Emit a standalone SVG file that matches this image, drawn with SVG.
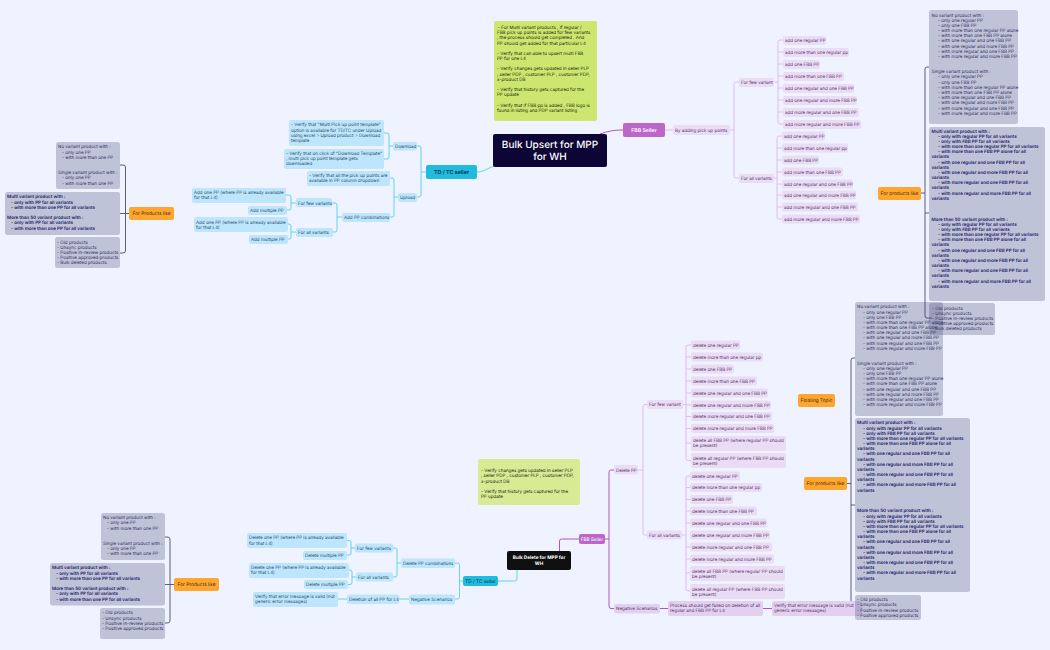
<svg xmlns="http://www.w3.org/2000/svg" width="1050" height="650" viewBox="0 0 1050 650">
<style>
text{font-family:"Inter","Noto Sans","Liberation Sans",sans-serif;font-size:4.5px;text-rendering:geometricPrecision}
.c{fill:none;stroke-width:.9}
.cy{stroke:#4fd0f0}.pk{stroke:#e2b4ee}.pu{stroke:#b454c4;stroke-width:1}.dk{stroke:#4e4c72;stroke-width:.9}.bk{stroke:#1c1a40}
.b{fill:#bde6fc}.bt{fill:#2c4f6c}
.p{fill:#ebdcf6}.pt{fill:#553a68}
.gr{fill:#323264;fill-opacity:.25}.gt{fill:#33335f}.gb{fill:#1b1a66;font-weight:600}
.o{fill:#ffa62f}.ot{fill:#3a2a10;text-anchor:middle;font-size:4.800px}
.n{fill:#1f2a10}
.m{text-anchor:middle}
</style>
<rect width="1050" height="650" fill="#eef3ff"/>
<g id="connectors">
<path class="c cy" d="M477 172C484 172 487 168 495 166"/>
<path class="c pu" d="M600 134C608 131 614 130 623 130"/>
<path class="c cy" d="M426 172H421M417 146H419Q421 146 421 148V195Q421 197 419 197H417"/>
<path class="c cy" d="M393 146H389M384 133H387Q389 133 389 135V157Q389 159 387 159H384"/>
<path class="c cy" d="M398 197H394M390 178H392Q394 178 394 180V215Q394 217 392 217H390"/>
<path class="c cy" d="M342 217H337M332 203H335Q337 203 337 205V230Q337 232 335 232H333"/>
<path class="c cy" d="M296 203H291M286 195H289Q291 195 291 197V208Q291 210 289 210H287"/>
<path class="c cy" d="M296 232H291M288 224H289Q291 224 291 226V237Q291 239 289 239H288"/>
<path class="c pk" d="M665 130H673M730 130H734M739 82H736Q734 82 734 84V176Q734 178 736 178H739"/>
<path class="c pk" d="M774 82H778M783 40H780Q778 40 778 42V122Q778 124 780 124H783M778 52H783M778 64H783M778 76H783M778 88H783M778 100H783M778 112H783"/>
<path class="c pk" d="M774 178H777M782 136H779Q777 136 777 138V217Q777 219 779 219H782M777 148H782M777 160H782M777 172H782M777 184H782M777 195H782M777 207H782"/>
<path class="c dk" d="M921 193H925M929 67H927Q925 67 925 69V316Q925 318 927 318H932M925 213H929"/>
<path class="c dk" d="M847 483.500H851M855 358H853Q851 358 851 360V605Q851 607 853 607H855M851 505H855"/>
<path class="c dk" d="M129 213.500H120M120 165H123Q125.500 165 125.500 167V251Q125.500 253 123 253H120"/>
<path class="c dk" d="M174 584.500H165M165 537H167Q170 537 170 539V621Q170 623 167 623H165"/>
<path class="c cy" d="M517 570V579Q517 581 515 581H498"/>
<path class="c cy" d="M463 581H459.500M455 563H457.500Q459.500 563 459.500 565V597Q459.500 599 457.500 599H455"/>
<path class="c cy" d="M401 563H397M393 548H395Q397 548 397 550V575Q397 577 395 577H393"/>
<path class="c cy" d="M355 548H351M347 540.500H349Q351 540.500 351 542.500V553Q351 555 349 555H347"/>
<path class="c cy" d="M356 577H352M349 570H350Q352 570 352 572V582.500Q352 584.500 350 584.500H348"/>
<path class="c cy" d="M409 599H399M347 599H338"/>
<path class="c pu" d="M559.500 551V541Q559.500 539 561.500 539H579"/>
<path class="c pu" d="M605 539H609M614 470H611Q609 470 609 472V606Q609 608.500 611 608.500H614"/>
<path class="c pu" d="M660 608.500H668M763 608.500H772"/>
<path class="c pk" d="M638 470H643M647 404.500H645Q643 404.500 643 406.500V533Q643 535 645 535H647"/>
<path class="c pk" d="M683 404.500H686M691 345H688Q686 345 686 347V458.500Q686 460.500 688 460.500H691M686 357H691M686 369H691M686 381H691M686 393H691M686 405H691M686 416.500H691M686 428.500H691M686 443H691"/>
<path class="c pk" d="M682 535H686M690 476H688Q686 476 686 478V589Q686 591 688 591H690M686 487.500H690M686 499.500H690M686 511H690M686 523H690M686 547H690M686 559H690M686 573H690"/>
</g>

<g id="root-upsert"><rect x="493" y="134" width="114" height="33" rx="2" fill="#0d0535"/><text x="550" y="148" class="m" fill="#fff" style="font-size:10px;font-weight:500">Bulk Upsert for MPP</text><text x="550" y="160" class="m" fill="#fff" style="font-size:10px;font-weight:500">for WH</text></g>
<g id="note-upsert"><rect x="494" y="21" width="103" height="100" rx="2" fill="#cce76f"/><text class="n" y="29"><tspan x="498" y="29">- For Multi variant products ,  if regular /</tspan><tspan x="497" y="34">FBB pick up points is added for few variants</tspan><tspan x="497" y="39.300">, the process should get completed . And</tspan><tspan x="497" y="44.600">PP should get added for that particular L4</tspan><tspan x="497" y="54.800">-  Verify that can able to upsert multi FBB</tspan><tspan x="497" y="59.800">PP for one L4</tspan><tspan x="497" y="70.300">-  Verify changes gets updated in seller PLP</tspan><tspan x="497" y="75.600">, seller PDP , customer PLP , customer PDP,</tspan><tspan x="497" y="80.800">x-product DB</tspan><tspan x="497" y="91">- Verify that history gets captured for the</tspan><tspan x="497" y="96.200">PP update</tspan><tspan x="497" y="106.600">- Verify that if FBB pp is added , FBB logo is</tspan><tspan x="497" y="111.800">found in listing and PDP variant listing</tspan></text></g>
<g id="fbb-seller"><rect x="623" y="123" width="42" height="14" rx="2" fill="#bb66c8"/><text x="644" y="131.800" class="m" fill="#fff" style="font-size:5.200px;font-weight:600">FBB Seller</text></g>
<g id="pickup"><rect class="p" x="673" y="125" width="57" height="10" rx="2"/><text class="pt" x="675" y="131.600">By adding pick up points</text></g>
<g id="fbb-few"><rect class="p" x="739" y="78" width="35" height="9" rx="2"/><text class="pt" x="741" y="84">For few variant</text></g>
<g id="fbb-all"><rect class="p" x="739" y="174" width="35" height="9" rx="2"/><text class="pt" x="741" y="180">For all variants</text></g>
<g id="uf1"><rect class="p" x="783" y="36" width="43" height="9" rx="2"/><text class="pt" x="785" y="41.600">add one regular PP</text></g>
<g id="uf2"><rect class="p" x="783" y="48" width="66" height="9" rx="2"/><text class="pt" x="785" y="53.600">add more than one regular pp</text></g>
<g id="uf3"><rect class="p" x="783" y="60" width="37" height="9" rx="2"/><text class="pt" x="785" y="65.600">add one FBB PP</text></g>
<g id="uf4"><rect class="p" x="783" y="72" width="61" height="9" rx="2"/><text class="pt" x="785" y="77.600">add more than one FBB PP</text></g>
<g id="uf5"><rect class="p" x="783" y="84" width="71" height="9" rx="2"/><text class="pt" x="785" y="89.600">add one regular and one FBB PP</text></g>
<g id="uf6"><rect class="p" x="783" y="96" width="74" height="9" rx="2"/><text class="pt" x="785" y="101.600">add one regular and more FBB PP</text></g>
<g id="uf7"><rect class="p" x="783" y="108" width="76" height="9" rx="2"/><text class="pt" x="785" y="113.600">add more regular and one FBB PP</text></g>
<g id="uf8"><rect class="p" x="783" y="120" width="78" height="9" rx="2"/><text class="pt" x="785" y="125.600">add more regular and more FBB PP</text></g>
<g id="ua1"><rect class="p" x="782" y="131.500" width="43" height="9" rx="2"/><text class="pt" x="784" y="137.600">add one regular PP</text></g>
<g id="ua2"><rect class="p" x="782" y="143.500" width="66" height="9" rx="2"/><text class="pt" x="784" y="149.600">add more than one regular pp</text></g>
<g id="ua3"><rect class="p" x="782" y="155.500" width="37" height="9" rx="2"/><text class="pt" x="784" y="161.600">add one FBB PP</text></g>
<g id="ua4"><rect class="p" x="782" y="167.500" width="61" height="9" rx="2"/><text class="pt" x="784" y="173.600">add more than one FBB PP</text></g>
<g id="ua5"><rect class="p" x="782" y="179.500" width="71" height="9" rx="2"/><text class="pt" x="784" y="185.600">add one regular and one FBB PP</text></g>
<g id="ua6"><rect class="p" x="782" y="190.500" width="74" height="9" rx="2"/><text class="pt" x="784" y="196.600">add one regular and more FBB PP</text></g>
<g id="ua7"><rect class="p" x="782" y="202.500" width="76" height="9" rx="2"/><text class="pt" x="784" y="208.600">add more regular and one FBB PP</text></g>
<g id="ua8"><rect class="p" x="782" y="214.500" width="78" height="9" rx="2"/><text class="pt" x="784" y="220.600">add more regular and more FBB PP</text></g>

<g id="products-upper-right"><rect class="o" x="878" y="187" width="43" height="13" rx="2"/><text class="ot" x="899.500" y="195.300">For products like</text></g>
<g id="ur-simple"><rect class="gr" x="929" y="10" width="89" height="114" rx="2.500"/><text class="gt"><tspan x="931.500" y="16.600">No variant product with :</tspan><tspan x="938" y="21.800">- only one regular PP</tspan><tspan x="938" y="26.900">- only one FBB PP</tspan><tspan x="938" y="32">- with more than one regular PP alone</tspan><tspan x="938" y="37.200">- with more than one FBB PP alone</tspan><tspan x="938" y="42.400">- with one regular and one FBB PP</tspan><tspan x="938" y="47.500">- with one regular and more FBB PP</tspan><tspan x="938" y="52.700">- with more regular and one FBB PP</tspan><tspan x="938" y="57.800">- with more regular and more FBB PP</tspan><tspan x="931.500" y="73.300">Single variant product with :</tspan><tspan x="938" y="78.400">- only one regular PP</tspan><tspan x="938" y="83.600">- only one FBB PP</tspan><tspan x="938" y="88.800">- with more than one regular PP alone</tspan><tspan x="938" y="94">- with more than one FBB PP alone</tspan><tspan x="938" y="99.100">- with one regular and one FBB PP</tspan><tspan x="938" y="104.300">- with one regular and more FBB PP</tspan><tspan x="938" y="109.500">- with more regular and one FBB PP</tspan><tspan x="938" y="114.600">- with more regular and more FBB PP</tspan></text></g>
<g id="ur-multi"><rect class="gr" x="929" y="127" width="116" height="174" rx="2.500"/><text class="gb"><tspan x="931.500" y="132.600">Multi variant product with :</tspan><tspan x="938" y="137.800">- only with regular PP for all variants</tspan><tspan x="938" y="142.900">- only with FBB PP for all variants</tspan><tspan x="938" y="148.100">- with more than one regular PP for all variants</tspan><tspan x="938" y="153.200">- with more than one FBB PP alone for all</tspan><tspan x="931.500" y="158.400">variants</tspan><tspan x="938" y="163.600">- with one regular and one FBB PP for all</tspan><tspan x="931.500" y="168.700">variants</tspan><tspan x="938" y="173.900">- with one regular and more FBB PP for all</tspan><tspan x="931.500" y="179">variants</tspan><tspan x="938" y="184.200">- with more regular and one FBB PP for all</tspan><tspan x="931.500" y="189.400">variants</tspan><tspan x="938" y="194.500">- with more regular and more FBB PP for all</tspan><tspan x="931.500" y="199.700">variants</tspan><tspan x="931.500" y="220.600">More than 50 variant product with :</tspan><tspan x="938" y="225.700">- only with regular PP for all variants</tspan><tspan x="938" y="230.900">- only with FBB PP for all variants</tspan><tspan x="938" y="236">- with more than one regular PP for all variants</tspan><tspan x="938" y="241.200">- with more than one FBB PP alone for all</tspan><tspan x="931.500" y="246.400">variants</tspan><tspan x="938" y="251.500">- with one regular and one FBB PP for all</tspan><tspan x="931.500" y="256.700">variants</tspan><tspan x="938" y="261.900">- with one regular and more FBB PP for all</tspan><tspan x="931.500" y="267">variants</tspan><tspan x="938" y="272.200">- with more regular and one FBB PP for all</tspan><tspan x="931.500" y="277.300">variants</tspan><tspan x="938" y="282.500">- with more regular and more FBB PP for all</tspan><tspan x="931.500" y="287.700">variants</tspan></text></g>
<g id="ur-old"><rect class="gr" x="929" y="303" width="66" height="32" rx="2.500"/><text class="gt"><tspan x="932" y="309.500">- Old products</tspan><tspan x="932" y="314.800">- Unsync products</tspan><tspan x="932" y="319.900">- Positive In-review products</tspan><tspan x="932" y="325.200">- Positive approved products</tspan><tspan x="932" y="330.400">- Bulk deleted products</tspan></text></g>

<g id="td-upper"><rect x="426" y="165" width="51" height="14" rx="2" fill="#1fbce0"/><text x="451.500" y="173.800" class="m" fill="#0d2c4a" style="font-size:5.400px;font-weight:600">TD / TC seller</text></g>
<g id="download"><rect class="b" x="393" y="142" width="24" height="8.500" rx="2"/><text class="bt" x="395" y="147.700">Download</text></g>
<g id="upload"><rect class="b" x="398" y="193" width="19" height="9" rx="2"/><text class="bt" x="400" y="199.200">Upload</text></g>
<g id="dl-1"><rect class="b" x="289" y="120" width="95" height="26" rx="2"/><text class="bt"><tspan x="291" y="126.400">- Verify that "Multi Pick up point template"</tspan><tspan x="291" y="131.500">option is available for TD/TC under Upload</tspan><tspan x="291" y="136.700">using excel &gt; Upload product &gt; Download</tspan><tspan x="291" y="141.800">template</tspan></text></g>
<g id="dl-2"><rect class="b" x="284" y="149" width="100" height="20" rx="2"/><text class="bt"><tspan x="286" y="154.800">- Verify that on click of "Download Template"</tspan><tspan x="286" y="160">, multi pick up point template gets</tspan><tspan x="286" y="165.100">downloaded</tspan></text></g>
<g id="ul-1"><rect class="b" x="307" y="171" width="83" height="15" rx="2"/><text class="bt"><tspan x="309" y="176.700">- Verify that all the pick up points are</tspan><tspan x="309" y="181.900">available in PP column dropdown</tspan></text></g>
<g id="add-combo"><rect class="b" x="342" y="213" width="48" height="9" rx="2"/><text class="bt" x="344" y="219">Add PP combinations</text></g>
<g id="add-few"><rect class="b" x="296" y="198" width="36" height="9" rx="2"/><text class="bt" x="298" y="204.600">For few variants</text></g>
<g id="add-all"><rect class="b" x="296" y="228" width="37" height="9" rx="2"/><text class="bt" x="298" y="233.800">For all variants</text></g>
<g id="add-1"><rect class="b" x="192" y="188" width="94" height="15" rx="2"/><text class="bt"><tspan x="194" y="194">Add one PP (where PP is already available</tspan><tspan x="194" y="199.200">for that L4)</tspan></text></g>
<g id="add-2"><rect class="b" x="248" y="206" width="39" height="9" rx="2"/><text class="bt" x="250" y="212">Add multiple PP</text></g>
<g id="add-3"><rect class="b" x="194" y="217" width="94" height="15" rx="2"/><text class="bt"><tspan x="196" y="223.500">Add one PP (where PP is already available</tspan><tspan x="196" y="228.500">for that L4)</tspan></text></g>
<g id="add-4"><rect class="b" x="249" y="235" width="39" height="9" rx="2"/><text class="bt" x="251" y="241.300">Add multiple PP</text></g>

<g id="products-ul"><rect class="o" x="129" y="207" width="45" height="13" rx="2"/><text class="ot" x="151.500" y="215.300">For Products like</text></g>
<g id="ul-simple"><rect class="gr" x="56" y="142" width="64" height="47" rx="2.500"/><text class="gt"><tspan x="58" y="148">No  variant product with :</tspan><tspan x="62" y="153.500">- only one  PP</tspan><tspan x="62" y="158.600">- with more than one  PP</tspan><tspan x="58" y="174">Single variant product with :</tspan><tspan x="62" y="179.200">- only one  PP</tspan><tspan x="62" y="184.500">- with more than one  PP</tspan></text></g>
<g id="ul-multi"><rect class="gr" x="5" y="192" width="115" height="43" rx="2.500"/><text class="gb"><tspan x="7" y="198.300">Multi variant product with :</tspan><tspan x="11" y="203.600">- only with PP for all variants</tspan><tspan x="11" y="208.800">- with more than one PP for all variants</tspan><tspan x="7" y="219">More than 50 variant product with :</tspan><tspan x="11" y="224.400">- only with  PP for all variants</tspan><tspan x="11" y="229.600">- with more than one  PP for all variants</tspan></text></g>
<g id="ul-old"><rect class="gr" x="55" y="237" width="65" height="31" rx="2.500"/><text class="gt"><tspan x="57" y="243.700">- Old products</tspan><tspan x="57" y="248.700">- Unsync products</tspan><tspan x="57" y="253.800">- Positive In-review products</tspan><tspan x="57" y="259.100">- Positive approved products</tspan><tspan x="57" y="264.100">- Bulk deleted products</tspan></text></g>

<g id="root-delete"><rect x="507" y="551" width="64" height="19" rx="2" fill="#0f0f10"/><text x="539" y="559.400" class="m" fill="#fff" style="font-size:4.700px;font-weight:700">Bulk Delete for MPP for</text><text x="539" y="565.300" class="m" fill="#fff" style="font-size:4.700px;font-weight:700">WH</text></g>
<g id="note-delete"><rect x="478" y="459" width="102" height="46" rx="2" fill="#d8eb94"/><text class="n"><tspan x="481" y="471.700">-  Verify changes gets updated in seller PLP</tspan><tspan x="481" y="477.400">, seller PDP , customer PLP , customer PDP,</tspan><tspan x="481" y="482.600">x-product DB</tspan><tspan x="481" y="493">- Verify that history gets captured for the</tspan><tspan x="481" y="498.400">PP update</tspan></text></g>
<g id="fbb-lower"><rect x="579" y="534" width="26" height="10" rx="2" fill="#bb66c8"/><text x="592" y="540.700" class="m" fill="#fff" style="font-size:4.700px">FBB Seller</text></g>
<g id="td-lower"><rect x="463" y="576" width="35" height="10" rx="2" fill="#1fbce0"/><text x="480.500" y="582.700" class="m" fill="#0d2c4a" style="font-size:4.700px">TD / TC seller</text></g>
<g id="del-combo"><rect class="b" x="401" y="558.500" width="54" height="9.500" rx="2"/><text class="bt" x="403" y="564.700">Delete PP combinations</text></g>
<g id="neg-td"><rect class="b" x="409" y="594.500" width="46" height="10" rx="2"/><text class="bt" x="411" y="600.700">Negative Scenarios</text></g>
<g id="del-few"><rect class="b" x="355" y="543.500" width="38" height="9" rx="2"/><text class="bt" x="357" y="549.700">For few variants</text></g>
<g id="del-all"><rect class="b" x="356" y="572.500" width="37" height="9" rx="2"/><text class="bt" x="358" y="578.700">For all variants</text></g>
<g id="del-1"><rect class="b" x="247" y="533" width="100" height="15" rx="2"/><text class="bt"><tspan x="249" y="539.300">Delete one PP (where PP is already available</tspan><tspan x="249" y="544.500">for that L4)</tspan></text></g>
<g id="del-2"><rect class="b" x="303" y="551" width="44" height="9" rx="2"/><text class="bt" x="305" y="557">Delete multiple PP</text></g>
<g id="del-3"><rect class="b" x="249" y="563" width="100" height="15" rx="2"/><text class="bt"><tspan x="251" y="569">Delete one PP (where PP is already available</tspan><tspan x="251" y="574.200">for that L4)</tspan></text></g>
<g id="del-4"><rect class="b" x="304" y="580" width="44" height="9" rx="2"/><text class="bt" x="306" y="586.300">Delete multiple PP</text></g>
<g id="del-neg"><rect class="b" x="347" y="594.500" width="52" height="9.500" rx="2"/><text class="bt" x="349" y="600.700">Deletion of all PP for L4</text></g>
<g id="del-verify"><rect class="b" x="253" y="592" width="85" height="15" rx="2"/><text class="bt"><tspan x="255" y="598">Verify that error message is valid (not</tspan><tspan x="255" y="603.400">generic error messages)</tspan></text></g>

<g id="delete-pp"><rect class="p" x="614" y="465" width="24" height="9.500" rx="2"/><text class="pt" x="616" y="471.600">Delete PP</text></g>
<g id="d-few"><rect class="p" x="647" y="400" width="36" height="9" rx="2"/><text class="pt" x="649" y="406">For few variant</text></g>
<g id="d-all"><rect class="p" x="647" y="530.500" width="35" height="9" rx="2"/><text class="pt" x="649" y="536.600">For all variants</text></g>
<g id="df1"><rect class="p" x="691" y="340.500" width="49" height="9" rx="2"/><text class="pt" x="693" y="346.600">delete one regular PP</text></g>
<g id="df2"><rect class="p" x="691" y="352.500" width="72" height="9" rx="2"/><text class="pt" x="693" y="358.600">delete more than one regular pp</text></g>
<g id="df3"><rect class="p" x="691" y="364.500" width="43" height="9" rx="2"/><text class="pt" x="693" y="370.600">delete one FBB PP</text></g>
<g id="df4"><rect class="p" x="691" y="376.500" width="66" height="9" rx="2"/><text class="pt" x="693" y="382.600">delete more than one FBB PP</text></g>
<g id="df5"><rect class="p" x="691" y="388.500" width="77" height="9" rx="2"/><text class="pt" x="693" y="394.600">delete one regular and one FBB PP</text></g>
<g id="df6"><rect class="p" x="691" y="400.500" width="80" height="9" rx="2"/><text class="pt" x="693" y="406.600">delete one regular and more FBB PP</text></g>
<g id="df7"><rect class="p" x="691" y="412" width="81" height="9" rx="2"/><text class="pt" x="693" y="418.100">delete more regular and one FBB PP</text></g>
<g id="df8"><rect class="p" x="691" y="424" width="83" height="9" rx="2"/><text class="pt" x="693" y="430.100">delete more regular and more FBB PP</text></g>
<g id="df9"><rect class="p" x="691" y="436" width="95" height="15" rx="2"/><text class="pt"><tspan x="693" y="442">delete all FBB PP  (where regular PP should</tspan><tspan x="693" y="447.300">be present)</tspan></text></g>
<g id="df10"><rect class="p" x="691" y="453" width="95" height="15" rx="2"/><text class="pt"><tspan x="693" y="459.500">delete all regular PP (where FBB PP should</tspan><tspan x="693" y="464.800">be present)</tspan></text></g>
<g id="da1"><rect class="p" x="690" y="471.500" width="50" height="9" rx="2"/><text class="pt" x="692" y="477.600">delete one regular PP</text></g>
<g id="da2"><rect class="p" x="690" y="483" width="72" height="9" rx="2"/><text class="pt" x="692" y="489.100">delete more than one regular pp</text></g>
<g id="da3"><rect class="p" x="690" y="495" width="43" height="9" rx="2"/><text class="pt" x="692" y="501.100">delete one FBB PP</text></g>
<g id="da4"><rect class="p" x="690" y="506.500" width="67" height="9" rx="2"/><text class="pt" x="692" y="512.600">delete more than one FBB PP</text></g>
<g id="da5"><rect class="p" x="690" y="518.500" width="77" height="9" rx="2"/><text class="pt" x="692" y="524.600">delete one regular and one FBB PP</text></g>
<g id="da6"><rect class="p" x="690" y="530.500" width="80" height="9" rx="2"/><text class="pt" x="692" y="536.600">delete one regular and more FBB PP</text></g>
<g id="da7"><rect class="p" x="690" y="542.500" width="82" height="9" rx="2"/><text class="pt" x="692" y="548.600">delete more regular and one FBB PP</text></g>
<g id="da8"><rect class="p" x="690" y="554.500" width="84" height="9" rx="2"/><text class="pt" x="692" y="560.600">delete more regular and more FBB PP</text></g>
<g id="da9"><rect class="p" x="690" y="566" width="95" height="15" rx="2"/><text class="pt"><tspan x="692" y="572.500">delete all FBB PP (where regular PP should</tspan><tspan x="692" y="577.800">be present)</tspan></text></g>
<g id="da10"><rect class="p" x="690" y="584" width="95" height="15" rx="2"/><text class="pt"><tspan x="692" y="590.500">delete all regular PP (where FBB PP should</tspan><tspan x="692" y="595.800">be present)</tspan></text></g>
<g id="neg-fbb"><rect fill="#e3d0f0" x="614" y="604" width="46" height="9.500" rx="2"/><text class="pt" x="616" y="610.300">Negative Scenarios</text></g>
<g id="process"><rect fill="#e3d0f0" x="668" y="601" width="95" height="15" rx="2"/><text class="pt"><tspan x="670" y="607">Process should get failed on deletion of all</tspan><tspan x="670" y="612.400">regular and FBB PP for L4</tspan></text></g>
<g id="verify-fbb"><rect fill="#e3d0f0" x="772" y="601" width="90" height="15" rx="2"/><text class="pt"><tspan x="774" y="607">Verify that error message is valid (not</tspan><tspan x="774" y="612.400">generic error messages)</tspan></text></g>

<g id="floating"><rect class="o" x="798" y="394" width="37" height="13" rx="2"/><text class="ot" x="816.500" y="402.300">Floating Topic</text></g>
<g id="products-lower-right"><rect class="o" x="804" y="477" width="43" height="13" rx="2"/><text class="ot" x="825.500" y="485.300">For products like</text></g>
<g id="lr-simple"><rect class="gr" x="855" y="302" width="88" height="114" rx="2.500"/><text class="gt"><tspan x="857" y="308.300">No variant product with :</tspan><tspan x="863" y="313.500">- only one regular PP</tspan><tspan x="863" y="318.700">- only one FBB PP</tspan><tspan x="863" y="323.800">- with more than one regular PP alone</tspan><tspan x="863" y="329">- with more than one FBB PP alone</tspan><tspan x="863" y="334.200">- with one regular and one FBB PP</tspan><tspan x="863" y="339.300">- with one regular and more FBB PP</tspan><tspan x="863" y="344.500">- with more regular and one FBB PP</tspan><tspan x="863" y="349.600">- with more regular and more FBB PP</tspan><tspan x="857" y="364.800">Single variant product with :</tspan><tspan x="863" y="370">- only one regular PP</tspan><tspan x="863" y="375.100">- only one FBB PP</tspan><tspan x="863" y="380.300">- with more than one regular PP alone</tspan><tspan x="863" y="385.400">- with more than one FBB PP alone</tspan><tspan x="863" y="390.600">- with one regular and one FBB PP</tspan><tspan x="863" y="395.800">- with one regular and more FBB PP</tspan><tspan x="863" y="401">- with more regular and one FBB PP</tspan><tspan x="863" y="406.100">- with more regular and more FBB PP</tspan></text></g>
<g id="lr-multi"><rect class="gr" x="855" y="418" width="115" height="174" rx="2.500"/><text class="gb"><tspan x="857" y="424.300">Multi variant product with :</tspan><tspan x="863" y="429.500">- only with regular PP for all variants</tspan><tspan x="863" y="434.700">- only with FBB PP for all variants</tspan><tspan x="863" y="439.800">- with more than one regular PP for all variants</tspan><tspan x="863" y="445">- with more than one FBB PP alone for all</tspan><tspan x="857" y="450.100">variants</tspan><tspan x="863" y="455.300">- with one regular and one FBB PP for all</tspan><tspan x="857" y="460.500">variants</tspan><tspan x="863" y="465.600">- with one regular and more FBB PP for all</tspan><tspan x="857" y="470.800">variants</tspan><tspan x="863" y="476">- with more regular and one FBB PP for all</tspan><tspan x="857" y="481.100">variants</tspan><tspan x="863" y="486.300">- with more regular and more FBB PP for all</tspan><tspan x="857" y="491.500">variants</tspan><tspan x="857" y="512.300">More than 50 variant product with :</tspan><tspan x="863" y="517.500">- only with regular PP for all variants</tspan><tspan x="863" y="522.700">- only with FBB PP for all variants</tspan><tspan x="863" y="527.800">- with more than one regular PP for all variants</tspan><tspan x="863" y="533">- with more than one FBB PP alone for all</tspan><tspan x="857" y="538.100">variants</tspan><tspan x="863" y="543.300">- with one regular and one FBB PP for all</tspan><tspan x="857" y="548.500">variants</tspan><tspan x="863" y="553.600">- with one regular and more FBB PP for all</tspan><tspan x="857" y="558.800">variants</tspan><tspan x="863" y="564">- with more regular and one FBB PP for all</tspan><tspan x="857" y="569.100">variants</tspan><tspan x="863" y="574.300">- with more regular and more FBB PP for all</tspan><tspan x="857" y="579.500">variants</tspan></text></g>
<g id="lr-old"><rect class="gr" x="855" y="595" width="66" height="25" rx="2.500"/><text class="gt"><tspan x="857" y="601">- Old products</tspan><tspan x="857" y="606">- Unsync products</tspan><tspan x="857" y="611.500">- Positive In-review products</tspan><tspan x="857" y="616.700">- Positive approved products</tspan></text></g>

<g id="products-ll"><rect class="o" x="174" y="578" width="45" height="13" rx="2"/><text class="ot" x="196.500" y="586.300">For Products like</text></g>
<g id="ll-simple"><rect class="gr" x="101" y="513" width="64" height="47" rx="2.500"/><text class="gt"><tspan x="103" y="519">No variant product with :</tspan><tspan x="107" y="524">- only one  PP</tspan><tspan x="107" y="529.500">- with more than one  PP</tspan><tspan x="103" y="544.700">Single variant product with :</tspan><tspan x="107" y="550">- only one  PP</tspan><tspan x="107" y="555.200">- with more than one  PP</tspan></text></g>
<g id="ll-multi"><rect class="gr" x="50" y="563" width="115" height="42.500" rx="2.500"/><text class="gb"><tspan x="52" y="569">Multi variant product with :</tspan><tspan x="56" y="574.700">- only with  PP for all variants</tspan><tspan x="56" y="579.700">- with more than one PP for all variants</tspan><tspan x="52" y="589.900">More than 50 variant product with :</tspan><tspan x="56" y="595.100">- only with PP for all variants</tspan><tspan x="56" y="600.700">- with more than one  PP for all variants</tspan></text></g>
<g id="ll-old"><rect class="gr" x="100" y="608" width="65" height="31" rx="2.500"/><text class="gt"><tspan x="102" y="614">- Old products</tspan><tspan x="102" y="619.700">- Unsync products</tspan><tspan x="102" y="624.800">- Positive In-review products</tspan><tspan x="102" y="629.800">- Positive approved products</tspan></text></g>
</svg>
